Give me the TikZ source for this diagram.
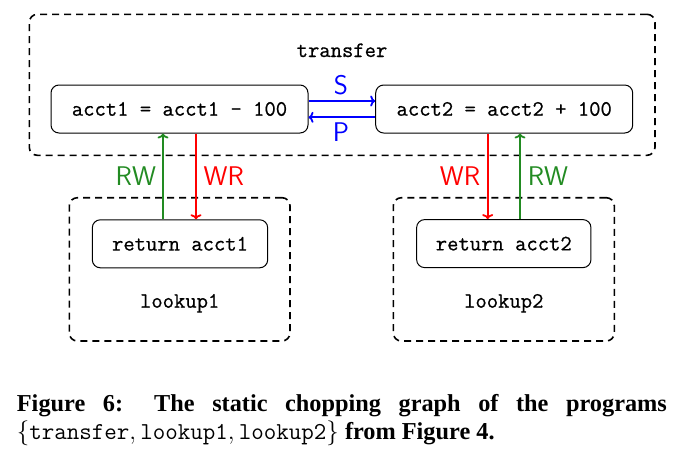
\documentclass[tikz,border=0pt]{standalone}
\usepackage{fontspec}
\setmainfont{Liberation Serif}
\newfontfamily\graphtt[FakeBold=0.7]{Latin Modern Mono}
\usetikzlibrary{arrows.meta}
\definecolor{mygreen}{RGB}{34,139,34}
\definecolor{myblue}{RGB}{0,0,255}
\definecolor{myred}{RGB}{255,0,0}
\tikzset{
  groupbox/.style={draw, line width=1.6pt, dash pattern=on 7pt off 5pt, rounded corners=8pt, inner sep=0pt},
  stmtbox/.style={draw, line width=1pt, rounded corners=8pt, inner sep=0pt, minimum height=48pt, font=\fontsize{22}{26}\selectfont\graphtt},
  grouplabel/.style={anchor=base, inner sep=0pt, font=\fontsize{22}{26}\selectfont\graphtt},
  edgelabel/.style={inner sep=0pt, font=\fontsize{27}{32}\selectfont\sffamily},
  conn/.style={line width=1.8pt, -{To[length=5pt,width=11pt]}},
  captext/.style={anchor=base west, inner sep=0pt, font=\fontsize{24.3}{28}\selectfont\bfseries},
}
\begin{document}
\begin{tikzpicture}[x=1pt,y=-1pt]
\useasboundingbox (0,0) rectangle (683,464);
% group boxes
\node[groupbox, minimum width=625.7pt, minimum height=141pt] (transfer) at (342.15,84.8) {};
\node[groupbox, minimum width=220.7pt, minimum height=143.3pt] (lookupA) at (179.65,269.35) {};
\node[groupbox, minimum width=221pt, minimum height=143.3pt] (lookupB) at (503.8,269.35) {};
\node[grouplabel] (transferlbl) at (342,57) {transfer};
\node[grouplabel] (lookupAlbl) at (179.7,307.7) {lookup1};
\node[grouplabel] (lookupBlbl) at (503.8,307.7) {lookup2};
% statements
\node[stmtbox, minimum width=257pt] (acct1) at (179.5,109) {acct1 = acct1 - 100};
\node[stmtbox, minimum width=257pt] (acct2) at (504.2,109) {acct2 = acct2 + 100};
\node[stmtbox, minimum width=175.4pt] (ret1) at (180,243.8) {return acct1};
\node[stmtbox, minimum width=174.3pt] (ret2) at (503.8,243.6) {return acct2};
% S / P
\draw[conn, myblue] ([yshift=8pt]acct1.east) -- ([yshift=8pt]acct2.west);
\draw[conn, myblue] ([yshift=-8.3pt]acct2.west) -- ([yshift=-8.3pt]acct1.east);
\node[edgelabel, text=myblue] (Slbl) at (341,85.5) {S};
\node[edgelabel, text=myblue] (Plbl) at (341,132.5) {P};
% left
\draw[conn, mygreen] ([xshift=-17pt]ret1.north) -- ([xshift=-17pt]ret1.north |- acct1.south);
\draw[conn, myred] ([xshift=16pt]ret1.north |- acct1.south) -- ([xshift=16pt]ret1.north);
\node[edgelabel, text=mygreen] (RWa) at (135.8,176.3) {RW};
\node[edgelabel, text=myred] (WRa) at (223.8,176.3) {WR};
% right
\draw[conn, myred] ([xshift=-16.1pt]ret2.north |- acct2.south) -- ([xshift=-16.1pt]ret2.north);
\draw[conn, mygreen] ([xshift=16.2pt]ret2.north) -- ([xshift=16.2pt]ret2.north |- acct2.south);
\node[edgelabel, text=myred] (WRb) at (460,176.3) {WR};
\node[edgelabel, text=mygreen] (RWb) at (548,176.3) {RW};
% caption
\node[captext] (cap1) at (16.7,411.7)
  {\makebox[650pt][s]{Figure 6: The static chopping graph of the programs}};
\node[captext] (cap2) at (16.7,439)
  {{\mdseries$\{\texttt{\mdseries transfer}, \texttt{\mdseries lookup1}, \texttt{\mdseries lookup2}\}$} from Figure 4.};
\end{tikzpicture}
\end{document}
